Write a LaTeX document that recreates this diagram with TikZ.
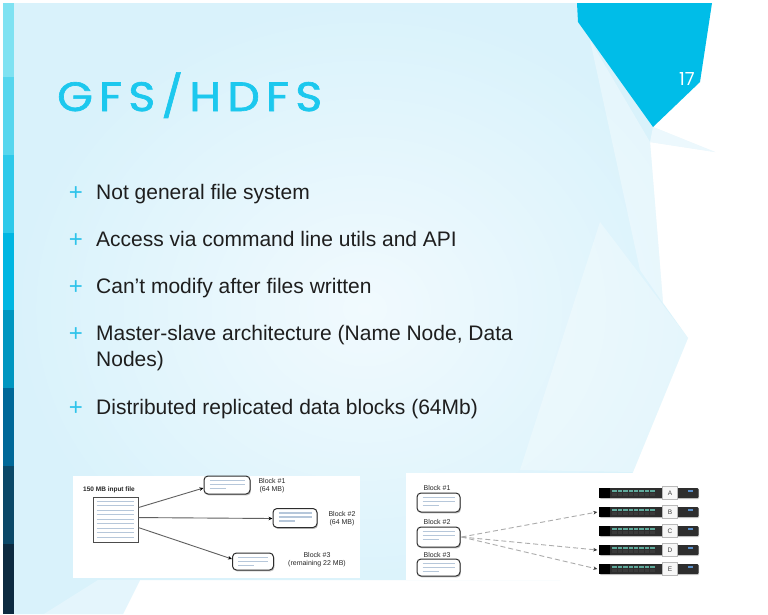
\documentclass[tikz,border=0pt]{standalone}
\usepackage{fontspec}
\setmainfont{Liberation Sans}
\newfontfamily\titlefont[LetterSpace=15,FakeBold=1.6,FakeStretch=1.12]{Poppins}
\newfontfamily\numfont{Poppins}
\usetikzlibrary{arrows.meta,shadows,calc}
\definecolor{bgA}{HTML}{D9F2FB}
\definecolor{bgB}{HTML}{F1FAFE}
\definecolor{cyanpoly}{HTML}{00BDE8}
\definecolor{titlecyan}{HTML}{1CC8EE}
\definecolor{pluscyan}{HTML}{2DC3EA}
\definecolor{txtdark}{HTML}{1E1E1E}
\definecolor{sA}{HTML}{7FE2F2}
\definecolor{sB}{HTML}{56D6EE}
\definecolor{sC}{HTML}{2DC9EA}
\definecolor{sD}{HTML}{00B6E2}
\definecolor{sE}{HTML}{0096C0}
\definecolor{sF}{HTML}{006898}
\definecolor{sG}{HTML}{0A4868}
\definecolor{sH}{HTML}{0C2A40}
\definecolor{lineblue}{HTML}{B6C7DA}
\definecolor{ledteal}{HTML}{5FA99B}
\definecolor{leddark}{HTML}{3A3A3A}
\definecolor{ledblue}{HTML}{5A8FC8}
\newcommand\blines[1]{%
  \draw[bline] ($(#1.north west)+(6,5)$) -- ($(#1.north east)+(-6,5)$);
  \draw[bline] ($(#1.north west)+(6,9)$) -- ($(#1.north east)+(-6,9)$);
  \draw[bline] ($(#1.north west)+(6,13)$) -- ++(16,0);}
\begin{document}
\begin{tikzpicture}[x=1pt,y=-1pt,
  bullettext/.style={anchor=base west, inner sep=0, text=txtdark, font=\fontsize{21}{27}\selectfont},
  plusmark/.style={anchor=base, inner sep=0, text=pluscyan, font=\fontsize{24}{24}\selectfont},
  docbox/.style={draw=gray!60!black, fill=white, line width=0.9pt, minimum width=45, minimum height=45, inner sep=0,
    drop shadow={shadow xshift=0.9pt, shadow yshift=-1.3pt, opacity=0.5}},
  blockbox/.style={draw=gray!35!black, fill=white, line width=1pt, rounded corners=4pt, inner sep=0,
    drop shadow={shadow xshift=0.9pt, shadow yshift=-1.4pt, opacity=0.5}},
  bline/.style={lineblue, line width=1.1pt},
  small/.style={font=\fontsize{7}{8}\selectfont, text=black!85, align=center, inner sep=0},
  solidarrow/.style={draw=gray!75!black, line width=0.9pt, -{Stealth[length=4pt,width=3.5pt,black]}},
  dasharrow/.style={draw=gray!65, line width=0.9pt, dash pattern=on 5pt off 3pt, -{Stealth[length=4pt,width=3.5pt,black!80]}},
  server/.style={fill=black!82, rounded corners=1pt, minimum width=99, minimum height=10, inner sep=0,
    drop shadow={shadow xshift=0.5pt, shadow yshift=-1pt, opacity=0.35}},
  srvlabel/.style={fill=gray!6, draw=gray!55, line width=0.5pt, minimum width=15, minimum height=13, inner sep=0,
    font=\fontsize{6.5}{6.5}\selectfont, text=black!75}
]
\useasboundingbox (0,0) rectangle (768,614);
\fill[white] (0,0) rectangle (768,614);
% slide background
\shade[inner color=bgB, outer color=bgA]
  (14,3) -- (578,3) -- (653,127) -- (715,152) -- (650,142) -- (663,303) -- (688,338) -- (633,472)
  -- (560,580) -- (140,580) -- (123,614) -- (14,614) -- cycle;
% facets
\fill[white, opacity=0.35] (590,40) -- (650,142) -- (663,303) -- (640,270) -- cycle;
\fill[white, opacity=0.3] (600,222) -- (688,338) -- (633,472) -- (520,470) -- cycle;
\fill[white, opacity=0.5] (653,127) -- (715,152) -- (650,142) -- cycle;
\fill[white, opacity=0.3] (44,614) -- (98,580) -- (140,580) -- (123,614) -- cycle;
% left strip
\fill[sA] (3,3) rectangle (14,77);
\fill[sB] (3,77) rectangle (14,155);
\fill[sC] (3,155) rectangle (14,233);
\fill[sD] (3,233) rectangle (14,310);
\fill[sE] (3,310) rectangle (14,388);
\fill[sF] (3,388) rectangle (14,466);
\fill[sG] (3,466) rectangle (14,544);
\fill[sH] (3,544) rectangle (14,614);
% top-right cyan polygon
\fill[cyanpoly] (577,3) -- (712,3) -- (700,82) -- (653,127) -- (578,22) -- cycle;
\node[anchor=base west, inner sep=0, text=white, font=\numfont\fontsize{18}{18}\selectfont] (pagenum) at (679,85) {17};
% title
\node[anchor=base west, inner sep=0, text=titlecyan, font=\titlefont\fontsize{41}{41}\selectfont] (title) at (57,111) {GFS/HDFS};
% bullets
\node[plusmark] (p1) at (76,200.5) {+};
\node[bullettext] (b1) at (96,199) {Not general file system};
\node[plusmark] (p2) at (76,247.5) {+};
\node[bullettext] (b2) at (96,246) {Access via command line utils and API};
\node[plusmark] (p3) at (76,294.5) {+};
\node[bullettext] (b3) at (96,293) {Can’t modify after files written};
\node[plusmark] (p4) at (76,341.5) {+};
\node[bullettext] (b4) at (96,340) {Master-slave architecture (Name Node, Data};
\node[bullettext] (b4b) at (96,366) {Nodes)};
\node[plusmark] (p5) at (76,415.5) {+};
\node[bullettext] (b5) at (96,414) {Distributed replicated data blocks (64Mb)};
% left diagram
\fill[white] (73,476) rectangle (360,578);
\node[small, font=\fontsize{6.5}{7.5}\selectfont\bfseries, anchor=base west] (inlabel) at (83,491) {150 MB input file};
\node[docbox] (input) at (115.5,519.5) {};
\foreach \i in {0,...,8}
  \draw[bline] ($(input.north west)+(4,4.5+\i*4.5)$) -- ++(37,0);
\node[blockbox, minimum width=46, minimum height=18] (lb1) at (227,485) {};
\blines{lb1}
\node[blockbox, minimum width=44, minimum height=19] (lb2) at (295,518) {};
\blines{lb2}
\node[blockbox, minimum width=41, minimum height=17] (lb3) at (253,561.5) {};
\blines{lb3}
\node[small] (lbl1) at (272,485.5) {Block \#1\\(64 MB)};
\node[small] (lbl2) at (342,518.5) {Block \#2\\(64 MB)};
\node[small] (lbl3) at (317,559.5) {Block \#3\\(remaining 22 MB)};
\draw[solidarrow] ($(input.north east)+(0,11)$) -- ($(lb1.west)+(0,3)$);
\draw[solidarrow] ($(input.north east)+(0,21)$) -- (lb2.west |- 0,518.5);
\draw[solidarrow] ($(input.north east)+(0,31)$) -- ($(lb3.west)+(0,-2.5)$);
% right diagram
\fill[white] (406,473) rectangle (715,580);
\node[small] (rl1) at (437,488) {Block \#1};
\node[blockbox, minimum width=43, minimum height=19] (rb1) at (438.5,502.5) {};
\blines{rb1}
\node[small] (rl2) at (437,522) {Block \#2};
\node[blockbox, minimum width=43, minimum height=20] (rb2) at (438.5,537) {};
\blines{rb2}
\node[small] (rl3) at (437,555) {Block \#3};
\node[blockbox, minimum width=43, minimum height=17] (rb3) at (438.5,567.5) {};
\blines{rb3}
\foreach \n/\yy in {A/493,B/512,C/531,D/550,E/569}{
  \node[server] (srv\n) at (649,\yy) {};
  \fill[black] (srv\n.north west) rectangle ++(11,10);
  \foreach \k in {0,...,7}{
    \fill[ledteal] ($(srv\n.north west)+(13+\k*5.4,2)$) rectangle ++(4.4,2.4);
    \fill[leddark] ($(srv\n.north west)+(13+\k*5.4,5.6)$) rectangle ++(4.4,2.6);
  }
  \fill[ledblue] ($(srv\n.north east)+(-11,2.5)$) rectangle ++(5,1.6);
  \node[srvlabel] (lab\n) at (670,\yy) {\n};
}
\draw[dasharrow] ($(rb2.east)+(1,0)$) -- ($(srvB.west)+(-2,0)$);
\draw[dasharrow] ($(rb2.east)+(1,0)$) -- ($(srvD.west)+(-2,0)$);
\draw[dasharrow] ($(rb2.east)+(1,0)$) -- ($(srvE.west)+(-2,0)$);
\end{tikzpicture}
\end{document}
